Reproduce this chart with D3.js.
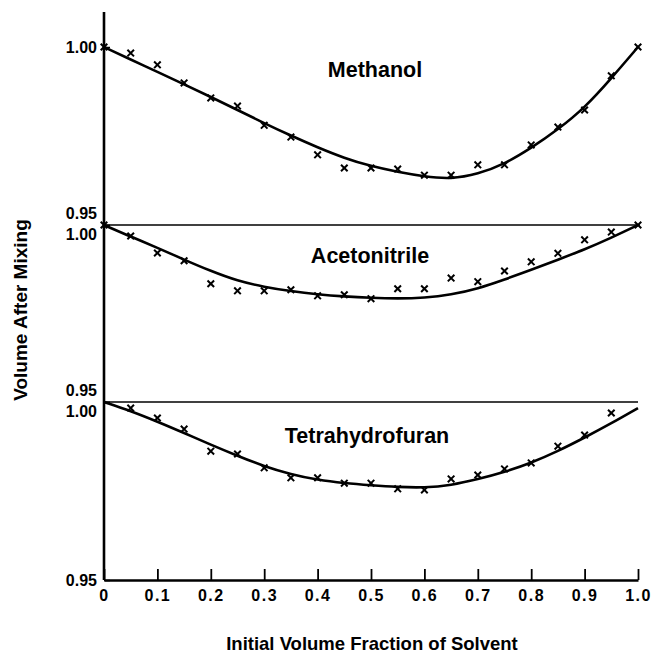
<!DOCTYPE html>
<html>
<head>
<meta charset="utf-8">
<script src="https://cdn.jsdelivr.net/npm/d3@7"></script>
<style>
  body { margin: 0; background: #fff; }
  svg { display: block; font-family: "Liberation Sans", Arial, sans-serif; font-weight: bold; }
</style>
</head>
<body>
<div id="chart"></div>
<script>
const fractions = [0, 0.05, 0.1, 0.15, 0.2, 0.25, 0.3, 0.35, 0.4, 0.45, 0.5,
    0.55, 0.6, 0.65, 0.7, 0.75, 0.8, 0.85, 0.9, 0.95, 1.0];

const solvents = ['Methanol', 'Acetonitrile', 'Tetrahydrofuran'];

// measured points (x marks)
const methanolPts = [1.000, 0.9983, 0.995, 0.9899, 0.9857, 0.9834, 0.978, 0.9747, 0.9697, 0.966, 0.966,
    0.9657, 0.964, 0.964, 0.9669, 0.9669, 0.9725, 0.9775, 0.9823, 0.9919, 1.000];
const acetonitrilePts = [1.000, 0.9969, 0.9921, 0.9899, 0.9834, 0.9814, 0.9814, 0.9817, 0.980, 0.9803, 0.9792,
    0.982, 0.982, 0.985, 0.984, 0.987, 0.9896, 0.992, 0.9958, 0.998, 1.000];
const thfPts = [null, 0.9983, 0.9955, 0.9924, 0.9862, 0.9854, 0.9815, 0.9787, 0.9787, 0.9772, 0.9772,
    0.9756, 0.9753, 0.9784, 0.9795, 0.9812, 0.9829, 0.9876, 0.9907, 0.9969, null];

// fitted curves, read on the same 0.05 grid
const methanolCurve = [1.000, 0.9965, 0.9930, 0.9895, 0.9860, 0.9823, 0.9786, 0.9751, 0.9718, 0.9688, 0.9665,
    0.9649, 0.9636, 0.9629, 0.9643, 0.9671, 0.9716, 0.9768, 0.9829, 0.9912, 1.000];
const acetonitrileCurve = [1.000, 0.9967, 0.9936, 0.9902, 0.9870, 0.9842, 0.9825, 0.9813, 0.9804, 0.9798, 0.9794,
    0.9792, 0.9794, 0.9803, 0.9820, 0.9846, 0.9873, 0.9902, 0.9931, 0.9964, 1.000];
const thfCurve = [1.000, 0.9975, 0.9945, 0.9913, 0.9880, 0.9849, 0.9819, 0.9797, 0.9781, 0.9772, 0.9766,
    0.9761, 0.9759, 0.9766, 0.9783, 0.9803, 0.9829, 0.9862, 0.9900, 0.9940, 0.9983];

const xTicks = [0, 0.1, 0.2, 0.3, 0.4, 0.5, 0.6, 0.7, 0.8, 0.9, 1.0];
const yTicks = [0.95, 1.00];

const width = 651;
const height = 657;

const svg = d3.select('#chart')
    .append('svg')
    .attr('width', width)
    .attr('height', height);

const x = d3.scaleLinear().domain([0, 1]).range([104, 638]);

// one band per solvent, stacked
const panelTop = [47, 225, 402];
const panelBottom = [225, 402, 580];
const labelPos = [[375, 77], [370, 263], [367, 443]];

const pointSets = [methanolPts, acetonitrilePts, thfPts];
const curveSets = [methanolCurve, acetonitrileCurve, thfCurve];

const line = d3.line()
    .x(d => x(d[0]))
    .y(d => d[1])
    .curve(d3.curveBasis);

const marker = d3.symbol().type(d3.symbolX).size(30);

solvents.forEach((name, i) => {
    const y = d3.scaleLinear().domain([0.95, 1.0]).range([panelBottom[i], panelTop[i]]);

    // thin reference line at 1.00 for lower panels
    if (i > 0) {
        svg.append('line')
            .attr('x1', x(0)).attr('x2', x(1) + (i === 1 ? 2 : 0))
            .attr('y1', y(1.0)).attr('y2', y(1.0))
            .attr('stroke', '#000')
            .attr('stroke-width', 1.3);
    }

    // y axis labels for this panel
    const ax = svg.append('g')
        .attr('class', 'y-axis')
        .attr('transform', `translate(${x(0)},0)`)
        .call(d3.axisLeft(y).tickValues(yTicks).tickFormat(d3.format('.2f')).tickSizeInner(-6).tickSizeOuter(0).tickPadding(7));
    ax.select('.domain').remove();
    ax.selectAll('line').attr('stroke', '#000').attr('stroke-width', 1.5);
    ax.selectAll('text')
        .attr('font-size', 16)
        .attr('font-weight', 'bold')
        .attr('font-family', 'Liberation Sans, Arial, sans-serif')
        .attr('fill', '#000')
        .attr('dy', d => {
            if (d === 0.95 && i < 2) return '-0.4em';
            if (d === 1.0 && i > 0) return '0.9em';
            return '0.32em';
        });

    const curveData = fractions.map((f, k) => [f, y(curveSets[i][k])]);
    svg.append('path')
        .attr('d', line(curveData))
        .attr('fill', 'none')
        .attr('stroke', '#000')
        .attr('stroke-width', 2.6);

    const pts = fractions.map((f, k) => [f, pointSets[i][k]]).filter(d => d[1] != null);
    svg.append('g')
        .selectAll('path')
        .data(pts)
        .join('path')
        .attr('d', marker)
        .attr('transform', d => `translate(${x(d[0])},${y(d[1])})`)
        .attr('fill', 'none')
        .attr('stroke', '#000')
        .attr('stroke-width', 2);

    svg.append('text')
        .attr('x', labelPos[i][0])
        .attr('y', labelPos[i][1])
        .attr('text-anchor', 'middle')
        .attr('font-size', 21.5)
        .text(name);
});

// left axis line
svg.append('line')
    .attr('x1', x(0)).attr('x2', x(0))
    .attr('y1', 12).attr('y2', 580)
    .attr('stroke', '#000')
    .attr('stroke-width', 2.6);

// x axis, ticks pointing up
const xAxis = svg.append('g')
    .attr('class', 'x-axis')
    .attr('transform', 'translate(0,580)')
    .call(d3.axisBottom(x).tickValues(xTicks)
        .tickFormat(d => d === 0 ? '0' : d3.format('.1f')(d))
        .tickSizeInner(-11).tickSizeOuter(0).tickPadding(10));
xAxis.select('.domain').attr('stroke', '#000').attr('stroke-width', 2.4);
xAxis.selectAll('line').attr('stroke', '#000').attr('stroke-width', 1.8);
xAxis.selectAll('text')
    .attr('font-size', 16)
    .attr('font-weight', 'bold')
    .attr('font-family', 'Liberation Sans, Arial, sans-serif')
    .attr('fill', '#000')
    .attr('letter-spacing', 1.5);

svg.append('text')
    .attr('x', 372)
    .attr('y', 650)
    .attr('text-anchor', 'middle')
    .attr('font-size', 18.5)
    .text('Initial Volume Fraction of Solvent');

svg.append('text')
    .attr('transform', 'translate(27,310) rotate(-90)')
    .attr('text-anchor', 'middle')
    .attr('font-size', 19)
    .text('Volume After Mixing');
</script>
</body>
</html>
